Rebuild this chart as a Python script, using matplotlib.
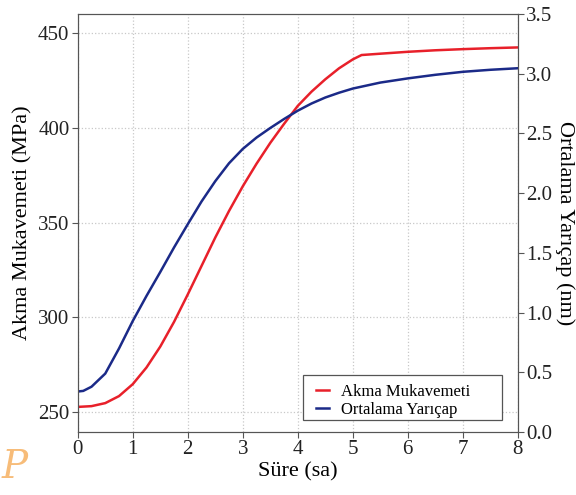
import numpy as np
import matplotlib.pyplot as plt
from matplotlib.patches import Rectangle

plt.rcParams['font.family'] = ['Liberation Serif', 'DejaVu Serif']

# yield strength (MPa) vs time (h)
t_mpa = [0, 0.25, 0.5, 0.75, 1.0, 1.25, 1.5, 1.75, 2.0, 2.25, 2.5, 2.75, 3.0,
         3.25, 3.5, 3.75, 4.0, 4.25, 4.5, 4.75, 5.0, 5.16, 5.5, 6.0,
         6.5, 7.0, 7.5, 8.0]
mpa = [252.8, 253.2, 254.8, 258.5, 264.8, 273.6, 284.6, 297.6, 312.1, 327.1,
       342.1, 356.1, 369.1, 381.0, 392.0, 402.0, 411.5, 419.0, 425.5, 431.3,
       436.0, 438.3, 439.0, 440.0, 440.8, 441.4, 441.9, 442.3]

# mean radius (nm) vs time (h)
t_nm = [0, 0.1, 0.25, 0.5, 0.75, 1.0, 1.25, 1.5, 1.75, 2.0, 2.25, 2.5, 2.75,
        3.0, 3.25, 3.5, 3.75, 4.0, 4.25, 4.5, 4.75, 5.0, 5.5, 6.0, 6.5, 7.0,
        7.5, 8.0]
nm = [0.34, 0.345, 0.38, 0.49, 0.70, 0.93, 1.14, 1.34, 1.545, 1.74, 1.93,
      2.10, 2.25, 2.37, 2.465, 2.545, 2.62, 2.69, 2.75, 2.80, 2.84, 2.875,
      2.925, 2.96, 2.99, 3.015, 3.032, 3.045]

x_ticks = [0, 1, 2, 3, 4, 5, 6, 7, 8]
left_ticks = [250, 300, 350, 400, 450]
right_ticks = [0.0, 0.5, 1.0, 1.5, 2.0, 2.5, 3.0, 3.5]

red = '#e8202a'
blue = '#1b2a88'
grey = '#555555'

fig = plt.figure(figsize=(5.76, 4.95), dpi=100)
ax = fig.add_axes([0.135, 0.127, 0.764, 0.845])
ax2 = ax.twinx()

l1, = ax.plot(t_mpa, mpa, color=red, lw=1.8, label='Akma Mukavemeti')
l2, = ax2.plot(t_nm, nm, color=blue, lw=1.8, label='Ortalama Yarıçap')

ax.set_xlim(0, 8)
ax.set_ylim(239.5, 460)
ax2.set_ylim(0, 3.5)
ax.set_xticks(x_ticks)
ax.set_yticks(left_ticks)
ax2.set_yticks(right_ticks)
ax2.set_yticklabels(['%.1f' % v for v in right_ticks])

ax.grid(True, ls=':', color='#c8c8c8', lw=0.9)
ax.set_axisbelow(True)

for a in (ax, ax2):
    for s in a.spines.values():
        s.set_color(grey)
    a.tick_params(colors='#222222', labelsize=15, length=4, color=grey, pad=2)

ax.set_xlabel('Süre (sa)', fontsize=16, labelpad=2)
ax.set_ylabel('Akma Mukavemeti (MPa)', fontsize=16, labelpad=4)
ax2.set_ylabel('Ortalama Yarıçap (nm)', fontsize=16, rotation=270, labelpad=16)

# legend box drawn by hand (wider than its text, as in the original)
ax2.add_patch(Rectangle((0.511, 0.0287), 0.4526, 0.1077, transform=ax2.transAxes,
                        facecolor='white', edgecolor=grey, lw=0.9, zorder=4))
leg = ax2.legend(handles=[l1, l2], loc='upper left', bbox_to_anchor=(0.511, 0.147),
                 fontsize=12, frameon=False, handlelength=0.8, handletextpad=0.7,
                 borderpad=0.3, labelspacing=0.12)
leg.set_zorder(5)

fig.text(0.002, 0.035, 'P', color='#f4a040', fontsize=28, style='italic',
         alpha=0.7, family='DejaVu Serif')

fig.savefig('out.png', dpi=100)
